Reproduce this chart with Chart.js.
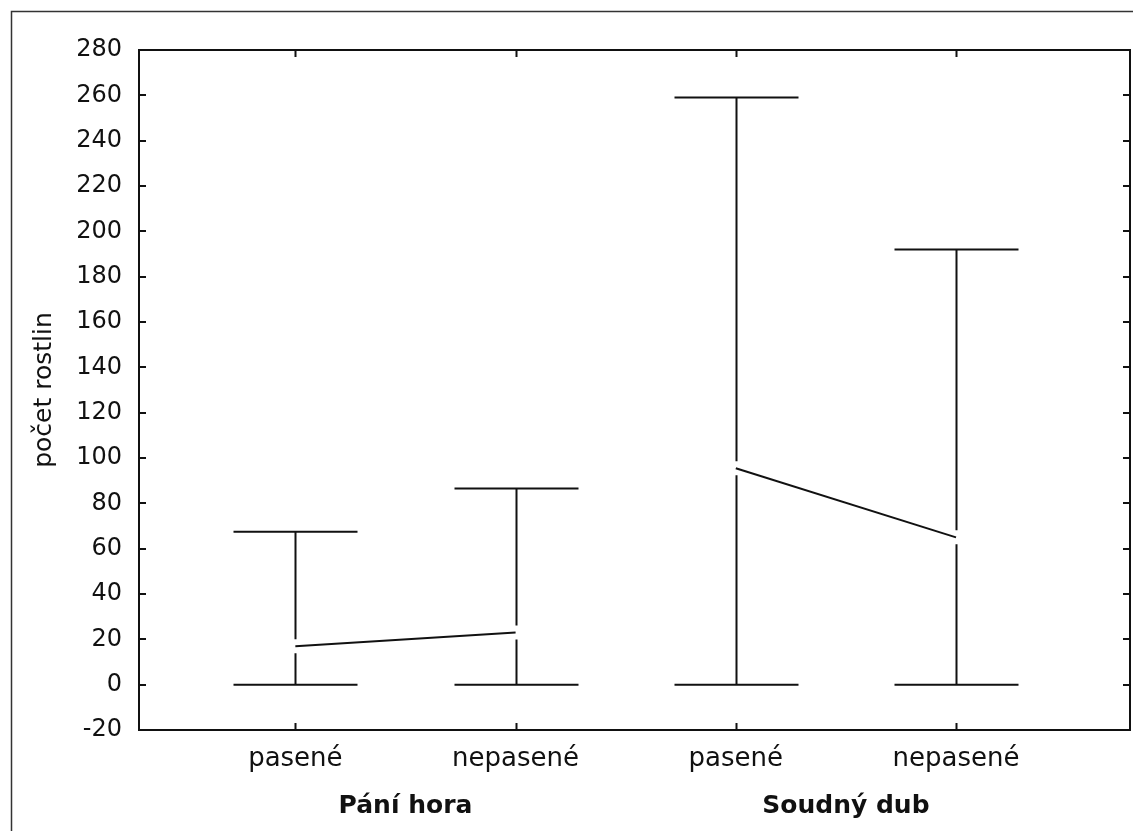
<!DOCTYPE html>
<html>
<head>
<meta charset="utf-8">
<title>počet rostlin</title>
<script src="https://cdn.jsdelivr.net/npm/chart.js@4.4.1/dist/chart.umd.min.js"></script>
<style>
  html, body { margin: 0; padding: 0; background: #fff; }
  #wrap { width: 1133px; height: 831px; position: relative; }
</style>
</head>
<body>
<div id="wrap"><canvas id="chart"></canvas></div>
<script>
const groups = ['Pání hora', 'Soudný dub'];
const treatments = ['pasené', 'nepasené', 'pasené', 'nepasené'];
const means = [17, 23, 95.5, 65];
const lower = [0, 0, 0, 0];
const upper = [67.5, 86.5, 259, 192];
const yMin = -20;
const yMax = 280;
const yStep = 20;

const ink = '#111';
const fontFamily = "'DejaVu Sans', Arial, Helvetica, sans-serif";
const positions = treatments.map((t, i) => i + 1);

// one mean line per locality
const meanLines = groups.map((g, gi) => ({
  label: g,
  data: [0, 1].map(k => ({ x: positions[gi * 2 + k], y: means[gi * 2 + k] })),
  borderColor: ink,
  borderWidth: 2,
  pointRadius: 0,
  fill: false,
  tension: 0
}));

// frame, box, inward ticks and min/max whiskers
const whiskerPlugin = {
  id: 'whiskers',
  beforeDraw(chart) {
    const ctx = chart.ctx;
    ctx.save();
    ctx.strokeStyle = '#333';
    ctx.lineWidth = 1.5;
    ctx.beginPath();
    ctx.moveTo(11.5, chart.height);
    ctx.lineTo(11.5, 11.5);
    ctx.lineTo(chart.width, 11.5);
    ctx.stroke();
    ctx.restore();
  },
  beforeDatasetsDraw(chart) {
    const { ctx, chartArea: a } = chart;
    const xs = chart.scales.x;
    const ys = chart.scales.y;
    const half = 62;
    const gap = 7;
    ctx.save();
    ctx.strokeStyle = ink;
    ctx.lineWidth = 2;
    ctx.lineCap = 'butt';
    treatments.forEach((t, i) => {
      const px = Math.round(xs.getPixelForValue(positions[i])) + 0.5;
      const yLo = ys.getPixelForValue(lower[i]);
      const yHi = ys.getPixelForValue(upper[i]);
      const yM = ys.getPixelForValue(means[i]);
      ctx.beginPath();
      ctx.moveTo(px, yHi);
      ctx.lineTo(px, yM - gap);
      ctx.moveTo(px, yM + gap);
      ctx.lineTo(px, yLo);
      ctx.moveTo(px - half, yHi);
      ctx.lineTo(px + half, yHi);
      ctx.moveTo(px - half, yLo);
      ctx.lineTo(px + half, yLo);
      ctx.stroke();
    });

    // plot box
    ctx.lineWidth = 2;
    ctx.strokeRect(a.left, a.top, a.right - a.left, a.bottom - a.top);

    // tick marks pointing into the plot
    const tl = 7;
    ctx.beginPath();
    ys.ticks.forEach(tk => {
      const py = Math.round(ys.getPixelForValue(tk.value));
      ctx.moveTo(a.left, py);
      ctx.lineTo(a.left + tl, py);
      ctx.moveTo(a.right, py);
      ctx.lineTo(a.right - tl, py);
    });
    xs.ticks.forEach(tk => {
      const px = Math.round(xs.getPixelForValue(tk.value)) + 0.5;
      ctx.moveTo(px, a.bottom);
      ctx.lineTo(px, a.bottom - tl);
      ctx.moveTo(px, a.top);
      ctx.lineTo(px, a.top + tl);
    });
    ctx.stroke();
    ctx.restore();
  }
};

new Chart(document.getElementById('chart'), {
  type: 'line',
  data: { datasets: meanLines },
  options: {
    responsive: true,
    maintainAspectRatio: false,
    animation: false,
    layout: { padding: { top: 50, right: 3, left: 0, bottom: 0 } },
    plugins: {
      legend: { display: false },
      tooltip: { enabled: false }
    },
    scales: {
      x: {
        type: 'linear',
        position: 'bottom',
        min: 0.29,
        max: 4.79,
        afterBuildTicks: s => { s.ticks = positions.map(v => ({ value: v })); },
        afterFit: s => { s.height = 53; },
        grid: { display: false, drawTicks: false },
        border: { display: false },
        ticks: {
          color: ink,
          padding: 14,
          maxRotation: 0,
          font: { family: fontFamily, size: 26 },
          callback: v => treatments[v - 1]
        }
      },
      x2: {
        type: 'linear',
        position: 'bottom',
        min: 0.29,
        max: 4.79,
        afterBuildTicks: s => { s.ticks = [1.5, 3.5].map(v => ({ value: v })); },
        afterFit: s => { s.height = 48; },
        grid: { display: false, drawTicks: false },
        border: { display: false },
        ticks: {
          color: ink,
          padding: 8,
          maxRotation: 0,
          font: { family: fontFamily, size: 25, weight: 'bold' },
          callback: v => groups[v === 1.5 ? 0 : 1]
        }
      },
      y: {
        min: yMin,
        max: yMax,
        afterFit: s => { s.width = 139; },
        grid: { display: false, drawTicks: false },
        border: { display: false },
        ticks: {
          stepSize: yStep,
          color: ink,
          padding: 17,
          font: { family: fontFamily, size: 24 }
        },
        title: {
          display: true,
          text: 'počet rostlin',
          color: ink,
          padding: { top: 29, bottom: 0 },
          font: { family: fontFamily, size: 25 }
        }
      }
    }
  },
  plugins: [whiskerPlugin]
});
</script>
</body>
</html>
